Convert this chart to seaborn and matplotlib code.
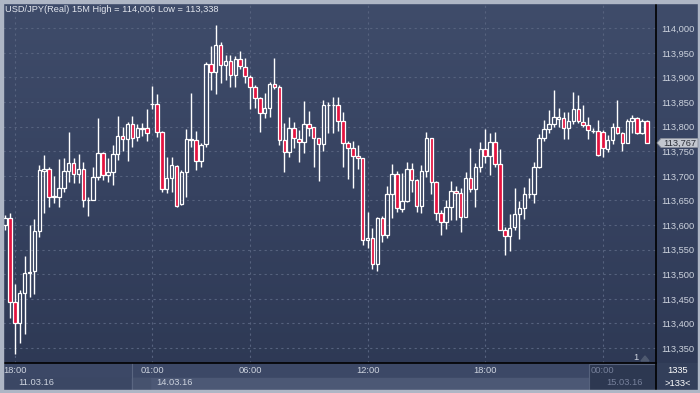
import numpy as np
import pandas as pd
import seaborn as sns
import matplotlib
matplotlib.use("Agg")
import matplotlib.pyplot as plt
from matplotlib.colors import LinearSegmentedColormap
from matplotlib.patches import Rectangle, Polygon
from matplotlib.lines import Line2D

# ---------------- data (USD/JPY 15M candles) ----------------
opens = [113.600, 113.614, 113.444, 113.400, 113.461, 113.502, 113.507, 113.587, 113.710, 113.714,
         113.658, 113.658, 113.675, 113.709, 113.726, 113.703, 113.715, 113.651, 113.651, 113.697,
         113.746, 113.702, 113.707, 113.744, 113.781, 113.774, 113.806, 113.780, 113.797, 113.797,
         113.846, 113.846, 113.790, 113.673, 113.695, 113.721, 113.642, 113.707, 113.774, 113.772,
         113.730, 113.765, 113.927, 113.912, 113.966, 113.925, 113.934, 113.905, 113.937, 113.922,
         113.902, 113.880, 113.858, 113.827, 113.839, 113.886, 113.880, 113.772, 113.749, 113.797,
         113.774, 113.768, 113.805, 113.799, 113.776, 113.764, 113.845, 113.844, 113.844, 113.812,
         113.766, 113.756, 113.740, 113.736, 113.570, 113.574, 113.520, 113.615, 113.580, 113.663,
         113.703, 113.633, 113.648, 113.713, 113.692, 113.639, 113.709, 113.776, 113.687, 113.624,
         113.606, 113.637, 113.670, 113.665, 113.617, 113.695, 113.673, 113.718, 113.754, 113.740,
         113.768, 113.724, 113.591, 113.578, 113.597, 113.622, 113.634, 113.663, 113.663, 113.718,
         113.778, 113.795, 113.805, 113.816, 113.817, 113.797, 113.812, 113.835, 113.810, 113.803,
         113.792, 113.792, 113.790, 113.754, 113.772, 113.799, 113.787, 113.767, 113.812, 113.817,
         113.788, 113.812]
highs = [113.620, 113.625, 113.480, 113.468, 113.537, 113.600, 113.612, 113.722, 113.742, 113.719,
         113.700, 113.734, 113.736, 113.790, 113.736, 113.745, 113.728, 113.657, 113.718, 113.817,
         113.749, 113.736, 113.763, 113.822, 113.800, 113.810, 113.822, 113.806, 113.808, 113.835,
         113.883, 113.866, 113.791, 113.738, 113.738, 113.722, 113.711, 113.795, 113.869, 113.791,
         113.766, 113.932, 113.963, 114.006, 113.973, 113.946, 113.946, 113.944, 113.954, 113.939,
         113.905, 113.885, 113.861, 113.869, 113.891, 113.939, 113.885, 113.807, 113.819, 113.810,
         113.793, 113.853, 113.832, 113.800, 113.777, 113.854, 113.851, 113.860, 113.860, 113.829,
         113.770, 113.770, 113.763, 113.737, 113.626, 113.595, 113.617, 113.619, 113.680, 113.724,
         113.710, 113.705, 113.728, 113.726, 113.694, 113.722, 113.789, 113.778, 113.689, 113.630,
         113.651, 113.690, 113.680, 113.675, 113.707, 113.756, 113.727, 113.768, 113.795, 113.788,
         113.790, 113.754, 113.596, 113.622, 113.675, 113.649, 113.677, 113.695, 113.729, 113.785,
         113.814, 113.834, 113.875, 113.837, 113.830, 113.829, 113.871, 113.864, 113.844, 113.820,
         113.797, 113.814, 113.793, 113.783, 113.807, 113.854, 113.790, 113.815, 113.824, 113.819,
         113.815, 113.814]
lows = [113.590, 113.411, 113.338, 113.361, 113.379, 113.454, 113.460, 113.576, 113.625, 113.637,
        113.645, 113.637, 113.668, 113.688, 113.686, 113.686, 113.637, 113.619, 113.650, 113.692,
        113.692, 113.688, 113.682, 113.732, 113.751, 113.731, 113.758, 113.770, 113.782, 113.770,
        113.835, 113.780, 113.667, 113.665, 113.668, 113.636, 113.641, 113.658, 113.758, 113.711,
        113.718, 113.758, 113.875, 113.866, 113.889, 113.895, 113.881, 113.881, 113.917, 113.888,
        113.835, 113.837, 113.790, 113.817, 113.819, 113.876, 113.763, 113.707, 113.738, 113.756,
        113.729, 113.746, 113.781, 113.718, 113.690, 113.751, 113.788, 113.788, 113.791, 113.719,
        113.694, 113.676, 113.714, 113.560, 113.554, 113.511, 113.507, 113.566, 113.573, 113.615,
        113.626, 113.627, 113.647, 113.667, 113.627, 113.624, 113.698, 113.663, 113.610, 113.580,
        113.593, 113.610, 113.610, 113.585, 113.616, 113.668, 113.637, 113.707, 113.727, 113.702,
        113.718, 113.590, 113.539, 113.548, 113.591, 113.571, 113.612, 113.656, 113.644, 113.717,
        113.771, 113.787, 113.800, 113.799, 113.774, 113.774, 113.805, 113.807, 113.800, 113.774,
        113.787, 113.741, 113.738, 113.749, 113.765, 113.785, 113.751, 113.766, 113.788, 113.785,
        113.785, 113.766]
closes = [113.614, 113.444, 113.400, 113.461, 113.502, 113.505, 113.588, 113.712, 113.714, 113.658,
          113.659, 113.675, 113.710, 113.726, 113.703, 113.715, 113.651, 113.650, 113.697, 113.746,
          113.702, 113.707, 113.744, 113.781, 113.774, 113.806, 113.778, 113.797, 113.796, 113.787,
          113.847, 113.789, 113.673, 113.695, 113.722, 113.639, 113.707, 113.774, 113.773, 113.730,
          113.763, 113.927, 113.912, 113.966, 113.925, 113.934, 113.905, 113.937, 113.923, 113.903,
          113.880, 113.858, 113.827, 113.839, 113.886, 113.880, 113.773, 113.749, 113.797, 113.776,
          113.768, 113.805, 113.797, 113.776, 113.764, 113.845, 113.844, 113.845, 113.812, 113.766,
          113.756, 113.740, 113.736, 113.570, 113.574, 113.520, 113.615, 113.580, 113.663, 113.703,
          113.634, 113.649, 113.713, 113.692, 113.639, 113.709, 113.776, 113.687, 113.624, 113.606,
          113.637, 113.670, 113.665, 113.617, 113.695, 113.673, 113.718, 113.754, 113.740, 113.768,
          113.724, 113.591, 113.578, 113.595, 113.622, 113.634, 113.663, 113.664, 113.718, 113.778,
          113.795, 113.805, 113.819, 113.819, 113.797, 113.812, 113.835, 113.812, 113.803, 113.793,
          113.791, 113.742, 113.756, 113.772, 113.799, 113.787, 113.767, 113.812, 113.817, 113.787,
          113.812, 113.767]

time_tick_bars = [2, 30, 50, 74, 98, 122]
time_tick_labels = ["18:00", "01:00", "06:00", "12:00", "18:00", "00:00"]
date_bars = [2, 30, 122]
date_labels = ["11.03.16", "14.03.16", "15.03.16"]
price_ticks = [113.35, 113.40, 113.45, 113.50, 113.55, 113.60, 113.65,
               113.70, 113.75, 113.80, 113.85, 113.90, 113.95, 114.00]
title_text = "USD/JPY(Real) 15M High = 114,006 Low = 113,338"
last_price = 113.767

df = pd.DataFrame({"open": opens, "high": highs, "low": lows, "close": closes})
df["bar"] = np.arange(len(df))

# ---------------- style ----------------
sns.set_theme(style="dark")
plt.rcParams["font.family"] = ["Liberation Sans", "DejaVu Sans"]
FS = 6.7
TXT = "#cdd3de"
DIM = "#76809a"

W, H = 700, 393
fig = plt.figure(figsize=(7.0, 3.93), dpi=100)
fig.patch.set_facecolor("#3a4662")

def fx(x):
    return x / W

def fy(y):
    return 1 - y / H

# background axes covering the whole figure (gradient + bottom panels)
bg = fig.add_axes([0, 0, 1, 1], zorder=-5)
cmap = LinearSegmentedColormap.from_list("bg", ["#3f4c6a", "#364260", "#2d3853"])
bg.imshow(np.linspace(0, 1, 256).reshape(-1, 1), cmap=cmap, aspect="auto",
          extent=[0, 1, 0, 1], origin="upper")
bg.set_xlim(0, 1)
bg.set_ylim(0, 1)
bg.set_axis_off()

def bg_rect(x0, y0, x1, y1, **kw):
    bg.add_patch(Rectangle((fx(x0), fy(y1)), fx(x1) - fx(x0), fy(y0) - fy(y1),
                           transform=bg.transAxes, **kw))

bg_rect(3, 363, 656, 378, color="#3c4866")
bg_rect(3, 378, 132, 390, color="#3b4764")
bg_rect(132, 378, 656, 390, color="#4c5875")
bg_rect(132, 378, 150, 390, color="#46526e")
bg.add_line(Line2D([fx(132), fx(132)], [fy(390), fy(363)], color="#5a6681", lw=0.8,
                   transform=bg.transAxes))
bg_rect(589, 363.5, 656, 389.5, facecolor="#2d3851", edgecolor="#56627d", lw=0.8)
bg_rect(656, 363, 700, 390, color="#333f5a")

# main axes
ax = fig.add_axes([fx(3), fy(363), fx(656) - fx(3), fy(3) - fy(363)])
ax.set_facecolor("none")
ax.set_xlim(-0.41, 132.86)
ax.set_ylim(113.3197, 114.0514)

# grid
for t in price_ticks:
    ax.axhline(t, color="#56627e", lw=0.8, ls=(0, (2, 3)), zorder=1)
for b in time_tick_bars:
    ax.axvline(b, color="#56627e", lw=0.8, ls=(0, (2, 3)), zorder=1)

# candles
bw = 0.7
up = df["close"] >= df["open"]
body_lo = np.minimum(df["open"], df["close"])
body_hi = np.maximum(df["open"], df["close"])
ax.vlines(df["bar"], df["low"], body_lo, color="white", lw=1.0, zorder=2)
ax.vlines(df["bar"], body_hi, df["high"], color="white", lw=1.0, zorder=2)
heights = np.maximum(body_hi - body_lo, 0.0004)
face = np.where(up, "none", "#e4133f")
ax.bar(df["bar"], heights, bottom=body_lo, width=bw, color=face,
       edgecolor="white", linewidth=0.9, zorder=3)

# axes styling
for s in ["top", "left"]:
    ax.spines[s].set_visible(False)
for s in ["right", "bottom"]:
    ax.spines[s].set_visible(True)
    ax.spines[s].set_color("black")
    ax.spines[s].set_linewidth(1.2)
ax.yaxis.tick_right()
ax.set_yticks(price_ticks)
ax.set_yticklabels([f"{t:.3f}".replace(".", ",") for t in price_ticks])
ax.tick_params(axis="y", length=0, pad=3.5, labelsize=FS, labelcolor=TXT)
ax.set_xticks(time_tick_bars)
ax.set_xticklabels(time_tick_labels)
ax.tick_params(axis="x", length=0, pad=2.5, labelsize=FS, labelcolor=TXT)
ax.get_xticklabels()[-1].set_color(DIM)
ax.grid(False)

# date labels
for b, lab in zip(date_bars, date_labels):
    col = DIM if lab == date_labels[-1] else TXT
    ax.text(b + 0.8, -0.054, lab, transform=ax.get_xaxis_transform(), ha="left",
            va="center", fontsize=FS, color=col, clip_on=False, zorder=5)

# frame borders
border = "#aeb6c5"
fig.patches.append(Rectangle((0, fy(3)), 1, 3 / H, transform=fig.transFigure,
                             color=border, zorder=10))
fig.patches.append(Rectangle((0, 0), fx(3), 1, transform=fig.transFigure,
                             color=border, zorder=10))
fig.patches.append(Rectangle((0, 0), 1, 3 / H, transform=fig.transFigure,
                             color=border, zorder=10))
fig.patches.append(Rectangle((fx(698), 0), fx(2), 1, transform=fig.transFigure,
                             color=border, zorder=10))
fig.add_artist(Line2D([fx(656), fx(656)], [fy(390), fy(363)], color="black", lw=1.2))

# title
fig.text(fx(5), fy(9), title_text, ha="left", va="center", fontsize=FS, color="#e2e6ee")

# corner texts
fig.text(fx(678), fy(370.5), "1335", ha="center", va="center", fontsize=FS, color="white")
fig.text(fx(678), fy(383), ">133<", ha="center", va="center", fontsize=FS, color="white")

# "1" and triangle marker
fig.text(fx(636), fy(358), "1", ha="center", va="center", fontsize=FS, color=TXT)
fig.patches.append(Polygon([[fx(641), fy(361)], [fx(649), fy(361)], [fx(645), fy(356)]],
                           closed=True, transform=fig.transFigure, color="#4f5a70"))

# last price tag
tag_y_px = H - ax.transData.transform((0, last_price))[1]
poly = Polygon([[fx(657), fy(tag_y_px)], [fx(661), fy(tag_y_px - 4.5)],
                [fx(698), fy(tag_y_px - 4.5)], [fx(698), fy(tag_y_px + 4.5)],
                [fx(661), fy(tag_y_px + 4.5)]], closed=True,
               transform=fig.transFigure, facecolor="#c3c7cf", edgecolor="#8a909c",
               lw=0.6, zorder=20)
fig.patches.append(poly)
fig.text(fx(679.5), fy(tag_y_px), f"{last_price:.3f}".replace(".", ","), ha="center",
         va="center", fontsize=FS, color="#2b2f38", zorder=21)

fig.savefig("out.png", dpi=100)
